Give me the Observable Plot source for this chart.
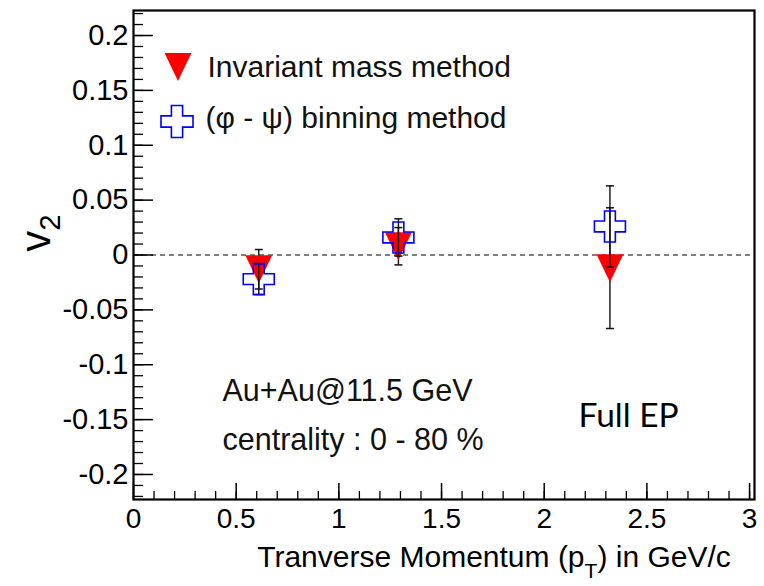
<!DOCTYPE html>
<html>
<head>
<meta charset="utf-8">
<script src="https://cdn.jsdelivr.net/npm/d3@7"></script>
<script src="https://cdn.jsdelivr.net/npm/@observablehq/plot@0.6"></script>
<style>
  html, body { margin: 0; padding: 0; background: #fff; }
</style>
</head>
<body>
<div id="chart"></div>
<script>
// ---- data ----
const pt = [0.61, 1.29, 2.32];
const invMass = [-0.013, 0.008, -0.012];
const invMassErr = [0.018, 0.017, 0.055];
const binning = [-0.022, 0.016, 0.026];
const binningErr = [0.014, 0.017, 0.037];
const seriesNames = ["Invariant mass method", "(\u03C6 - \u03C8) binning method"];
const notes = ["Au+Au@11.5 GeV", "centrality : 0 - 80 %", "Full EP"];
const xTicks = [0, 0.5, 1, 1.5, 2, 2.5, 3];
const yTicks = [-0.2, -0.15, -0.1, -0.05, 0, 0.05, 0.1, 0.15, 0.2];
const xTitle = "Tranverse Momentum (pT) in GeV/c";
const yTitle = "v2";

// ---- layout ----
const W = 764, H = 586;
const mL = 133, mR = 10, mT = 10, mB = 87;
const fW = W - mL - mR, fH = H - mT - mB;

const xMinor = d3.range(0, 31).map(i => i / 10);
const yMinor = d3.range(-22, 23).map(i => i / 100);

const red = "#ff0000", blue = "#0000ff";

const triDown = {draw(ctx, size) {
  const k = Math.sqrt(size / Math.PI);
  ctx.moveTo(-0.96 * k, -k); ctx.lineTo(0.96 * k, -k); ctx.lineTo(0, k); ctx.closePath();
}};
const openCross = {draw(ctx, size) {
  const r = Math.sqrt(size / Math.PI), a = 0.35 * r;
  const p = [[-a,-r],[a,-r],[a,-a],[r,-a],[r,a],[a,a],[a,r],[-a,r],[-a,a],[-r,a],[-r,-a],[-a,-a]];
  ctx.moveTo(p[0][0], p[0][1]);
  for (let i = 1; i < p.length; i++) ctx.lineTo(p[i][0], p[i][1]);
  ctx.closePath();
}};
const capSym = {draw(ctx) { ctx.moveTo(-4, 0); ctx.lineTo(4, 0); }};

const A = pt.map((x, i) => ({x, v: invMass[i], e: invMassErr[i]}));
const B = pt.map((x, i) => ({x, v: binning[i], e: binningErr[i]}));

const errMarks = (rows) => [
  Plot.ruleX(rows, {x: "x", y1: d => d.v - d.e, y2: d => d.v + d.e, stroke: "#111", strokeWidth: 1.4}),
  Plot.dot(rows, {x: "x", y: d => d.v - d.e, symbol: capSym, stroke: "#111", strokeWidth: 1.5}),
  Plot.dot(rows, {x: "x", y: d => d.v + d.e, symbol: capSym, stroke: "#111", strokeWidth: 1.5})
];

const font = "'Liberation Sans', Arial, Helvetica, sans-serif";

const plot = Plot.plot({
  width: W, height: H,
  marginLeft: mL, marginRight: mR, marginTop: mT, marginBottom: mB,
  style: {fontFamily: font, background: "#fff", color: "#000"},
  x: {domain: [0, 3.024], axis: null},
  y: {domain: [-0.2228, 0.2228], axis: null},
  marks: [
    // inward ticks
    Plot.tickY(yMinor, {y: d => d, insetRight: fW - 10, stroke: "#000", strokeWidth: 1.3}),
    Plot.tickY(yTicks, {y: d => d, insetRight: fW - 20, stroke: "#000", strokeWidth: 1.5}),
    Plot.tickX(xMinor, {x: d => d, insetTop: fH - 8, stroke: "#000", strokeWidth: 1.3}),
    Plot.tickX(xTicks, {x: d => d, insetTop: fH - 16, stroke: "#000", strokeWidth: 1.5}),
    Plot.axisY(yTicks, {anchor: "left", tickSize: 0, tickPadding: 5, tickFormat: d => String(d), fontSize: 29, label: null, fill: "#000"}),
    Plot.axisX(xTicks, {anchor: "bottom", tickSize: 0, tickPadding: 9, tickFormat: d => String(d), fontSize: 28, label: null, fill: "#000"}),
    // zero line
    Plot.ruleY([0], {stroke: "#000", strokeWidth: 1.2, strokeDasharray: "5,4"}),
    // invariant mass
    ...errMarks(A),
    Plot.dot(A, {x: "x", y: "v", symbol: triDown, r: 14, fill: red, stroke: "none"}),
    // binning
    ...errMarks(B),
    Plot.dot(B, {x: "x", y: "v", symbol: openCross, r: 15.5, fill: "none", stroke: blue, strokeWidth: 1.6}),
    // legend
    Plot.dot([{}], {frameAnchor: "top-left", dx: 44.5, dy: 56.5, symbol: triDown, r: 14, fill: red, stroke: "none"}),
    Plot.dot([{}], {frameAnchor: "top-left", dx: 43.5, dy: 111, symbol: openCross, r: 16, fill: "none", stroke: blue, strokeWidth: 1.6}),
    Plot.text([seriesNames[0]], {frameAnchor: "top-left", dx: 74, dy: 57, textAnchor: "start", lineAnchor: "middle", fontSize: 30, fill: "#111"}),
    Plot.text([seriesNames[1]], {frameAnchor: "top-left", dx: 72, dy: 108, textAnchor: "start", lineAnchor: "middle", fontSize: 30, fill: "#111"}),
    // annotations
    Plot.text([notes[0]], {frameAnchor: "top-left", dx: 89, dy: 381, textAnchor: "start", lineAnchor: "middle", fontSize: 30.5, fill: "#111"}),
    Plot.text([notes[1]], {frameAnchor: "top-left", dx: 89, dy: 430, textAnchor: "start", lineAnchor: "middle", fontSize: 30.5, fill: "#111"}),
    Plot.text([notes[2]], {frameAnchor: "top-left", dx: 445, dy: 406, textAnchor: "start", lineAnchor: "middle", fontSize: 33.5, fontFamily: "Lato, 'Open Sans', sans-serif", fill: "#000"}),
    // titles
    Plot.text([xTitle], {frameAnchor: "bottom", dx: 50, dy: 58, textAnchor: "middle", lineAnchor: "middle", fontSize: 30, fill: "#000"}),
    Plot.text([yTitle], {frameAnchor: "left", dx: -97, dy: -22, rotate: -90, textAnchor: "middle", lineAnchor: "middle", fontSize: 42, fill: "#000"}),
    // frame
    Plot.frame({stroke: "#000", strokeWidth: 2.2})
  ]
});

document.getElementById("chart").appendChild(plot);

// subscripts in titles (find the title texts by their content)
function withSub(full, before, sub, after, shift) {
  const t = Array.from(plot.querySelectorAll("text")).find(el => el.textContent === full);
  if (!t) return;
  t.textContent = "";
  const ns = "http://www.w3.org/2000/svg";
  const a = document.createElementNS(ns, "tspan"); a.textContent = before; t.appendChild(a);
  const s = document.createElementNS(ns, "tspan"); s.textContent = sub;
  s.setAttribute("font-size", "0.7em"); s.setAttribute("dy", shift + "em"); t.appendChild(s);
  if (after) {
    const c = document.createElementNS(ns, "tspan"); c.textContent = after;
    c.setAttribute("dy", (-shift * 0.7) + "em"); t.appendChild(c);
  }
}
withSub(xTitle, xTitle.slice(0, 21), xTitle.slice(21, 22), xTitle.slice(22), 0.5);
withSub(yTitle, yTitle.slice(0, 1), yTitle.slice(1), "", 0.35);
</script>
</body>
</html>
